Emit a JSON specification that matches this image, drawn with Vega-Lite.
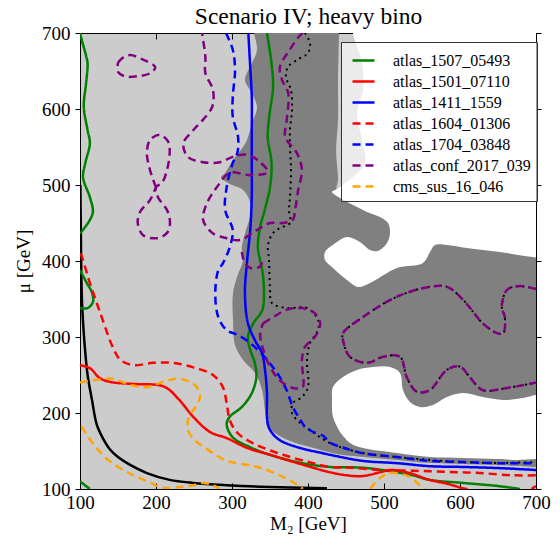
{
"$schema":"https://vega.github.io/schema/vega-lite/v6.json",
"width":456,"height":456,
"autosize":{"type":"none"},
"padding":{"left":80,"top":33,"right":24,"bottom":51},
"background":"white",
"config":{
"view":{"fill":"#cccccc","stroke":null},
"axis":{"grid":false,"domainColor":"black","domainWidth":1,"tickColor":"black","tickWidth":1,"labelFont":"Liberation Serif","labelFontSize":19,"labelColor":"black","titleFont":"Liberation Serif","titleFontSize":19,"titleFontWeight":"normal","titleColor":"black","labelFlush":false,"labelOverlap":false,"zindex":1}
},
"datasets":{
"regions":[
{"r":"D","x":326,"y":720},{"r":"D","x":329,"y":700},{"r":"D","x":332.9,"y":677.6},{"r":"D","x":326.3,"y":660.5},{"r":"D","x":317,"y":638.2},{"r":"D","x":323.7,"y":625},{"r":"D","x":332.9,"y":602.6},{"r":"D","x":326.3,"y":581.6},{"r":"D","x":319.7,"y":559.2},{"r":"D","x":314.5,"y":550},{"r":"D","x":301.3,"y":532.9},{"r":"D","x":290.8,"y":515.8},{"r":"D","x":285.5,"y":510.5},{"r":"D","x":294.7,"y":502.6},{"r":"D","x":314.5,"y":493.4},{"r":"D","x":323.7,"y":477.6},{"r":"D","x":323.7,"y":457.9},{"r":"D","x":318.4,"y":440.8},{"r":"D","x":313,"y":418.4},{"r":"D","x":314.5,"y":401.3},{"r":"D","x":306.6,"y":378.9},{"r":"D","x":301.3,"y":357.9},{"r":"D","x":301.3,"y":322.4},{"r":"D","x":304,"y":289.5},{"r":"D","x":314.5,"y":269.7},{"r":"D","x":330.3,"y":252.6},{"r":"D","x":339.5,"y":230.3},{"r":"D","x":343.4,"y":203.9},{"r":"D","x":347.4,"y":184.2},{"r":"D","x":356.6,"y":173.7},{"r":"D","x":376.3,"y":163.2},{"r":"D","x":402.6,"y":155.3},{"r":"D","x":438.2,"y":146},{"r":"D","x":472.4,"y":142.1},{"r":"D","x":517.1,"y":138.2},{"r":"D","x":560.5,"y":134.2},{"r":"D","x":603.9,"y":132.9},{"r":"D","x":648.7,"y":131.6},{"r":"D","x":700,"y":128.9},{"r":"D","x":720,"y":128},{"r":"D","x":720,"y":460},{"r":"D","x":560,"y":462},{"r":"D","x":500,"y":478},{"r":"D","x":460,"y":492},{"r":"D","x":438,"y":494},{"r":"D","x":439.5,"y":507},{"r":"D","x":437,"y":546},{"r":"D","x":439.5,"y":586},{"r":"D","x":439.5,"y":638},{"r":"D","x":440.8,"y":700},{"r":"D","x":441,"y":720},
{"r":"W","x":459,"y":720},{"r":"W","x":720,"y":720},{"r":"W","x":720,"y":405.3},{"r":"W","x":696,"y":405.3},{"r":"W","x":652.6,"y":411.8},{"r":"W","x":609.2,"y":417},{"r":"W","x":582.9,"y":421},{"r":"W","x":567.1,"y":421},{"r":"W","x":560.5,"y":411.8},{"r":"W","x":551.3,"y":397.4},{"r":"W","x":517.1,"y":390.8},{"r":"W","x":481.6,"y":371},{"r":"W","x":465.8,"y":365.8},{"r":"W","x":451.3,"y":375},{"r":"W","x":432.9,"y":390.8},{"r":"W","x":422.4,"y":401.3},{"r":"W","x":422.4,"y":411.8},{"r":"W","x":438.2,"y":425},{"r":"W","x":451.3,"y":431.6},{"r":"W","x":468.4,"y":425},{"r":"W","x":481.6,"y":414.5},{"r":"W","x":492,"y":413.2},{"r":"W","x":503.9,"y":423.7},{"r":"W","x":507.9,"y":436.8},{"r":"W","x":505.3,"y":450},{"r":"W","x":494.7,"y":457.9},{"r":"W","x":477.6,"y":464.5},{"r":"W","x":459.2,"y":473.7},{"r":"W","x":442.1,"y":482.9},{"r":"W","x":431.6,"y":490.8},{"r":"W","x":438.2,"y":494.7},{"r":"W","x":448.7,"y":502.6},{"r":"W","x":459.2,"y":510.5},{"r":"W","x":475,"y":528.9},{"r":"W","x":471,"y":559.2},{"r":"W","x":464.5,"y":594.7},{"r":"W","x":472.4,"y":625},{"r":"W","x":471,"y":660.5},{"r":"W","x":459.2,"y":700},{"r":"W","x":459,"y":720},
{"r":"W2","x":442.1,"y":175},{"r":"W2","x":432.9,"y":194.7},{"r":"W2","x":431.6,"y":217.1},{"r":"W2","x":432.9,"y":234.2},{"r":"W2","x":446,"y":247.4},{"r":"W2","x":464.5,"y":256.6},{"r":"W2","x":485.5,"y":260.5},{"r":"W2","x":507.9,"y":260.5},{"r":"W2","x":521,"y":252.6},{"r":"W2","x":525,"y":230.3},{"r":"W2","x":534.2,"y":214.5},{"r":"W2","x":547.4,"y":207.9},{"r":"W2","x":564.5,"y":210.5},{"r":"W2","x":582.9,"y":221},{"r":"W2","x":603.9,"y":226.3},{"r":"W2","x":630.3,"y":221},{"r":"W2","x":656.6,"y":217.1},{"r":"W2","x":682.9,"y":219.7},{"r":"W2","x":700,"y":223.7},{"r":"W2","x":720,"y":224},{"r":"W2","x":720,"y":139.5},{"r":"W2","x":700,"y":139.5},{"r":"W2","x":675,"y":138.2},{"r":"W2","x":648.7,"y":139.5},{"r":"W2","x":603.9,"y":140.8},{"r":"W2","x":560.5,"y":142.1},{"r":"W2","x":517.1,"y":147.4},{"r":"W2","x":472.4,"y":153.9},{"r":"W2","x":455.3,"y":160.5},{"r":"W2","x":442.1,"y":175}
],
"black":[
{"k":"solid","p":"k1","x":100.5,"y":500},{"k":"solid","p":"k1","x":101,"y":450},{"k":"solid","p":"k1","x":101.5,"y":400},{"k":"solid","p":"k1","x":102.5,"y":350},{"k":"solid","p":"k1","x":104,"y":320},{"k":"solid","p":"k1","x":106.5,"y":285},{"k":"solid","p":"k1","x":110,"y":250},{"k":"solid","p":"k1","x":115.8,"y":217},{"k":"solid","p":"k1","x":122,"y":185},{"k":"solid","p":"k1","x":130,"y":167},{"k":"solid","p":"k1","x":139.5,"y":152},{"k":"solid","p":"k1","x":150,"y":142},{"k":"solid","p":"k1","x":162,"y":134},{"k":"solid","p":"k1","x":188,"y":121},{"k":"solid","p":"k1","x":218,"y":112},{"k":"solid","p":"k1","x":249,"y":108},{"k":"solid","p":"k1","x":293,"y":105},{"k":"solid","p":"k1","x":337,"y":103},{"k":"solid","p":"k1","x":425,"y":101},
{"k":"dot","p":"k2","x":396,"y":700},{"k":"dot","p":"k2","x":402.6,"y":686.8},{"k":"dot","p":"k2","x":400,"y":673.7},{"k":"dot","p":"k2","x":385.5,"y":664.5},{"k":"dot","p":"k2","x":373.7,"y":655.3},{"k":"dot","p":"k2","x":371,"y":642.1},{"k":"dot","p":"k2","x":377.6,"y":625},{"k":"dot","p":"k2","x":379,"y":598.7},{"k":"dot","p":"k2","x":376.3,"y":572.4},{"k":"dot","p":"k2","x":376.3,"y":550},{"k":"dot","p":"k2","x":377.6,"y":519.7},{"k":"dot","p":"k2","x":376.3,"y":484.2},{"k":"dot","p":"k2","x":375,"y":467.1},{"k":"dot","p":"k2","x":376.3,"y":450},{"k":"dot","p":"k2","x":363.2,"y":443.4},{"k":"dot","p":"k2","x":354,"y":436.8},{"k":"dot","p":"k2","x":347.4,"y":421},{"k":"dot","p":"k2","x":348.7,"y":401.3},{"k":"dot","p":"k2","x":350,"y":365.8},{"k":"dot","p":"k2","x":352.6,"y":344.7},{"k":"dot","p":"k2","x":372.4,"y":338.2},{"k":"dot","p":"k2","x":398.7,"y":338.2},{"k":"dot","p":"k2","x":413.2,"y":322.4},{"k":"dot","p":"k2","x":413.2,"y":309.2},{"k":"dot","p":"k2","x":402.6,"y":292.1},{"k":"dot","p":"k2","x":398.7,"y":269.7},{"k":"dot","p":"k2","x":400,"y":234.2},{"k":"dot","p":"k2","x":392,"y":221},{"k":"dot","p":"k2","x":380.3,"y":213.2},{"k":"dot","p":"k2","x":379,"y":200},{"k":"dot","p":"k2","x":389.5,"y":186.8},{"k":"dot","p":"k2","x":398.7,"y":180.3},{"k":"dot","p":"k2","x":428.9,"y":160.5},{"k":"dot","p":"k2","x":472.4,"y":147.4},{"k":"dot","p":"k2","x":517.1,"y":142.1},{"k":"dot","p":"k2","x":560.5,"y":138.2},{"k":"dot","p":"k2","x":603.9,"y":135.5},{"k":"dot","p":"k2","x":648.7,"y":134.2},{"k":"dot","p":"k2","x":700,"y":135.5},
{"k":"dot","p":"k3","x":700,"y":363},{"k":"dot","p":"k3","x":679,"y":367},{"k":"dot","p":"k3","x":662,"y":362},{"k":"dot","p":"k3","x":655,"y":340},{"k":"dot","p":"k3","x":659,"y":326},{"k":"dot","p":"k3","x":657,"y":305},{"k":"dot","p":"k3","x":649,"y":305},{"k":"dot","p":"k3","x":630,"y":318},{"k":"dot","p":"k3","x":604,"y":349},{"k":"dot","p":"k3","x":583,"y":366},{"k":"dot","p":"k3","x":560,"y":366},{"k":"dot","p":"k3","x":517,"y":353},{"k":"dot","p":"k3","x":472,"y":326},{"k":"dot","p":"k3","x":446,"y":305},{"k":"dot","p":"k3","x":446,"y":296},{"k":"dot","p":"k3","x":455,"y":274},{"k":"dot","p":"k3","x":478,"y":266},{"k":"dot","p":"k3","x":499,"y":274},{"k":"dot","p":"k3","x":521,"y":274},{"k":"dot","p":"k3","x":530,"y":247},{"k":"dot","p":"k3","x":543,"y":228},{"k":"dot","p":"k3","x":560,"y":230},{"k":"dot","p":"k3","x":583,"y":257},{"k":"dot","p":"k3","x":600,"y":261},{"k":"dot","p":"k3","x":613,"y":247},{"k":"dot","p":"k3","x":630,"y":230},{"k":"dot","p":"k3","x":662,"y":233},{"k":"dot","p":"k3","x":700,"y":240}
],
"curves":[
{"s":"atlas_1507_05493","p":"g1","x":100,"y":700},{"s":"atlas_1507_05493","p":"g1","x":102,"y":692},{"s":"atlas_1507_05493","p":"g1","x":108,"y":670},{"s":"atlas_1507_05493","p":"g1","x":110,"y":660},{"s":"atlas_1507_05493","p":"g1","x":108,"y":634},{"s":"atlas_1507_05493","p":"g1","x":105,"y":603},{"s":"atlas_1507_05493","p":"g1","x":110,"y":572},{"s":"atlas_1507_05493","p":"g1","x":113,"y":555},{"s":"atlas_1507_05493","p":"g1","x":107,"y":529},{"s":"atlas_1507_05493","p":"g1","x":104,"y":510},{"s":"atlas_1507_05493","p":"g1","x":113,"y":484},{"s":"atlas_1507_05493","p":"g1","x":117,"y":465},{"s":"atlas_1507_05493","p":"g1","x":113,"y":454},{"s":"atlas_1507_05493","p":"g1","x":100,"y":436},
{"s":"atlas_1507_05493","p":"g2","x":100,"y":388},{"s":"atlas_1507_05493","p":"g2","x":109,"y":371},{"s":"atlas_1507_05493","p":"g2","x":116,"y":358},{"s":"atlas_1507_05493","p":"g2","x":117,"y":346},{"s":"atlas_1507_05493","p":"g2","x":110,"y":338},{"s":"atlas_1507_05493","p":"g2","x":100,"y":338},
{"s":"atlas_1507_05493","p":"g3","x":100,"y":110},{"s":"atlas_1507_05493","p":"g3","x":113,"y":100},
{"s":"atlas_1507_05493","p":"g4","x":346,"y":700},{"s":"atlas_1507_05493","p":"g4","x":352,"y":660},{"s":"atlas_1507_05493","p":"g4","x":354,"y":629},{"s":"atlas_1507_05493","p":"g4","x":349,"y":590},{"s":"atlas_1507_05493","p":"g4","x":347,"y":563},{"s":"atlas_1507_05493","p":"g4","x":352,"y":529},{"s":"atlas_1507_05493","p":"g4","x":350,"y":497},{"s":"atlas_1507_05493","p":"g4","x":343,"y":467},{"s":"atlas_1507_05493","p":"g4","x":337,"y":445},{"s":"atlas_1507_05493","p":"g4","x":334,"y":418},{"s":"atlas_1507_05493","p":"g4","x":337,"y":401},{"s":"atlas_1507_05493","p":"g4","x":341,"y":379},{"s":"atlas_1507_05493","p":"g4","x":340,"y":336},{"s":"atlas_1507_05493","p":"g4","x":328,"y":318},{"s":"atlas_1507_05493","p":"g4","x":321,"y":300},{"s":"atlas_1507_05493","p":"g4","x":324,"y":283},{"s":"atlas_1507_05493","p":"g4","x":330,"y":266},{"s":"atlas_1507_05493","p":"g4","x":332,"y":247},{"s":"atlas_1507_05493","p":"g4","x":326,"y":226},{"s":"atlas_1507_05493","p":"g4","x":313,"y":208},{"s":"atlas_1507_05493","p":"g4","x":297,"y":195},{"s":"atlas_1507_05493","p":"g4","x":293,"y":185},{"s":"atlas_1507_05493","p":"g4","x":301,"y":168},{"s":"atlas_1507_05493","p":"g4","x":324,"y":155},{"s":"atlas_1507_05493","p":"g4","x":350,"y":145},{"s":"atlas_1507_05493","p":"g4","x":393,"y":134},{"s":"atlas_1507_05493","p":"g4","x":429,"y":129},{"s":"atlas_1507_05493","p":"g4","x":472,"y":128},{"s":"atlas_1507_05493","p":"g4","x":517,"y":122},{"s":"atlas_1507_05493","p":"g4","x":538,"y":118},{"s":"atlas_1507_05493","p":"g4","x":560,"y":112},{"s":"atlas_1507_05493","p":"g4","x":604,"y":108},{"s":"atlas_1507_05493","p":"g4","x":649,"y":104},{"s":"atlas_1507_05493","p":"g4","x":679,"y":100},
{"s":"atlas_1501_07110","p":"r1","x":100,"y":263},{"s":"atlas_1501_07110","p":"r1","x":113,"y":259},{"s":"atlas_1501_07110","p":"r1","x":126,"y":246},{"s":"atlas_1501_07110","p":"r1","x":139,"y":241},{"s":"atlas_1501_07110","p":"r1","x":175,"y":238},{"s":"atlas_1501_07110","p":"r1","x":201,"y":237},{"s":"atlas_1501_07110","p":"r1","x":214,"y":233},{"s":"atlas_1501_07110","p":"r1","x":230,"y":218},{"s":"atlas_1501_07110","p":"r1","x":249,"y":195},{"s":"atlas_1501_07110","p":"r1","x":271,"y":175},{"s":"atlas_1501_07110","p":"r1","x":293,"y":167},{"s":"atlas_1501_07110","p":"r1","x":320,"y":154},{"s":"atlas_1501_07110","p":"r1","x":350,"y":145},{"s":"atlas_1501_07110","p":"r1","x":393,"y":132},{"s":"atlas_1501_07110","p":"r1","x":429,"y":122},{"s":"atlas_1501_07110","p":"r1","x":451,"y":118},{"s":"atlas_1501_07110","p":"r1","x":472,"y":117},{"s":"atlas_1501_07110","p":"r1","x":495,"y":122},{"s":"atlas_1501_07110","p":"r1","x":508,"y":125},{"s":"atlas_1501_07110","p":"r1","x":530,"y":122},{"s":"atlas_1501_07110","p":"r1","x":560,"y":112},{"s":"atlas_1501_07110","p":"r1","x":583,"y":107},{"s":"atlas_1501_07110","p":"r1","x":604,"y":101},{"s":"atlas_1501_07110","p":"r1","x":610,"y":100},
{"s":"atlas_1501_07110","p":"r2","x":694,"y":100},{"s":"atlas_1501_07110","p":"r2","x":700,"y":104},
{"s":"atlas_1411_1559","p":"b1","x":321.5,"y":700},{"s":"atlas_1411_1559","p":"b1","x":323.7,"y":660},{"s":"atlas_1411_1559","p":"b1","x":326,"y":616},{"s":"atlas_1411_1559","p":"b1","x":326,"y":572},{"s":"atlas_1411_1559","p":"b1","x":326,"y":529},{"s":"atlas_1411_1559","p":"b1","x":326,"y":484},{"s":"atlas_1411_1559","p":"b1","x":324,"y":441},{"s":"atlas_1411_1559","p":"b1","x":320,"y":401},{"s":"atlas_1411_1559","p":"b1","x":317,"y":358},{"s":"atlas_1411_1559","p":"b1","x":321,"y":318},{"s":"atlas_1411_1559","p":"b1","x":330,"y":296},{"s":"atlas_1411_1559","p":"b1","x":339.5,"y":279},{"s":"atlas_1411_1559","p":"b1","x":343.4,"y":257},{"s":"atlas_1411_1559","p":"b1","x":346,"y":226},{"s":"atlas_1411_1559","p":"b1","x":346,"y":195},{"s":"atlas_1411_1559","p":"b1","x":348,"y":182},{"s":"atlas_1411_1559","p":"b1","x":355,"y":171},{"s":"atlas_1411_1559","p":"b1","x":365,"y":163},{"s":"atlas_1411_1559","p":"b1","x":389.5,"y":154},{"s":"atlas_1411_1559","p":"b1","x":420,"y":147},{"s":"atlas_1411_1559","p":"b1","x":429,"y":145},{"s":"atlas_1411_1559","p":"b1","x":472,"y":137},{"s":"atlas_1411_1559","p":"b1","x":517,"y":134},{"s":"atlas_1411_1559","p":"b1","x":560.5,"y":130},{"s":"atlas_1411_1559","p":"b1","x":604,"y":129},{"s":"atlas_1411_1559","p":"b1","x":649,"y":127.6},{"s":"atlas_1411_1559","p":"b1","x":700,"y":125},
{"s":"atlas_1604_01306","p":"rd1","x":100.5,"y":410},{"s":"atlas_1604_01306","p":"rd1","x":103,"y":404},{"s":"atlas_1604_01306","p":"rd1","x":113,"y":371},{"s":"atlas_1604_01306","p":"rd1","x":122,"y":345},{"s":"atlas_1604_01306","p":"rd1","x":130,"y":322},{"s":"atlas_1604_01306","p":"rd1","x":143,"y":287},{"s":"atlas_1604_01306","p":"rd1","x":153,"y":270},{"s":"atlas_1604_01306","p":"rd1","x":170,"y":263},{"s":"atlas_1604_01306","p":"rd1","x":196,"y":266},{"s":"atlas_1604_01306","p":"rd1","x":222,"y":266},{"s":"atlas_1604_01306","p":"rd1","x":249,"y":260},{"s":"atlas_1604_01306","p":"rd1","x":275,"y":250},{"s":"atlas_1604_01306","p":"rd1","x":288,"y":234},{"s":"atlas_1604_01306","p":"rd1","x":293,"y":213},{"s":"atlas_1604_01306","p":"rd1","x":297,"y":191},{"s":"atlas_1604_01306","p":"rd1","x":307,"y":174},{"s":"atlas_1604_01306","p":"rd1","x":328,"y":160},{"s":"atlas_1604_01306","p":"rd1","x":367,"y":145},{"s":"atlas_1604_01306","p":"rd1","x":403,"y":135},{"s":"atlas_1604_01306","p":"rd1","x":429,"y":129},{"s":"atlas_1604_01306","p":"rd1","x":455,"y":128},{"s":"atlas_1604_01306","p":"rd1","x":495,"y":125},{"s":"atlas_1604_01306","p":"rd1","x":538,"y":124},{"s":"atlas_1604_01306","p":"rd1","x":583,"y":122.6},{"s":"atlas_1604_01306","p":"rd1","x":626,"y":121},{"s":"atlas_1604_01306","p":"rd1","x":670,"y":118},{"s":"atlas_1604_01306","p":"rd1","x":700,"y":118},
{"s":"atlas_1704_03848","p":"bd1","x":292,"y":700},{"s":"atlas_1704_03848","p":"bd1","x":301,"y":678},{"s":"atlas_1704_03848","p":"bd1","x":304,"y":651},{"s":"atlas_1704_03848","p":"bd1","x":301,"y":616},{"s":"atlas_1704_03848","p":"bd1","x":301,"y":590},{"s":"atlas_1704_03848","p":"bd1","x":308,"y":563},{"s":"atlas_1704_03848","p":"bd1","x":307,"y":542},{"s":"atlas_1704_03848","p":"bd1","x":301,"y":529},{"s":"atlas_1704_03848","p":"bd1","x":293,"y":497},{"s":"atlas_1704_03848","p":"bd1","x":291,"y":467},{"s":"atlas_1704_03848","p":"bd1","x":301,"y":441},{"s":"atlas_1704_03848","p":"bd1","x":297,"y":418},{"s":"atlas_1704_03848","p":"bd1","x":288,"y":397},{"s":"atlas_1704_03848","p":"bd1","x":282,"y":388},{"s":"atlas_1704_03848","p":"bd1","x":278,"y":358},{"s":"atlas_1704_03848","p":"bd1","x":282,"y":326},{"s":"atlas_1704_03848","p":"bd1","x":293,"y":309},{"s":"atlas_1704_03848","p":"bd1","x":307,"y":303},{"s":"atlas_1704_03848","p":"bd1","x":324,"y":292},{"s":"atlas_1704_03848","p":"bd1","x":341,"y":276},{"s":"atlas_1704_03848","p":"bd1","x":354,"y":260},{"s":"atlas_1704_03848","p":"bd1","x":363,"y":247},{"s":"atlas_1704_03848","p":"bd1","x":372,"y":230},{"s":"atlas_1704_03848","p":"bd1","x":380,"y":208},{"s":"atlas_1704_03848","p":"bd1","x":390,"y":191},{"s":"atlas_1704_03848","p":"bd1","x":396,"y":182},{"s":"atlas_1704_03848","p":"bd1","x":405,"y":176},{"s":"atlas_1704_03848","p":"bd1","x":420,"y":170},{"s":"atlas_1704_03848","p":"bd1","x":429,"y":161},{"s":"atlas_1704_03848","p":"bd1","x":451,"y":153},{"s":"atlas_1704_03848","p":"bd1","x":472,"y":147},{"s":"atlas_1704_03848","p":"bd1","x":517,"y":142},{"s":"atlas_1704_03848","p":"bd1","x":560,"y":137},{"s":"atlas_1704_03848","p":"bd1","x":604,"y":135.5},{"s":"atlas_1704_03848","p":"bd1","x":649,"y":134},{"s":"atlas_1704_03848","p":"bd1","x":700,"y":134},
{"s":"atlas_conf_2017_039","p":"p1","x":150,"y":661},{"s":"atlas_conf_2017_039","p":"p1","x":157,"y":668},{"s":"atlas_conf_2017_039","p":"p1","x":166,"y":671},{"s":"atlas_conf_2017_039","p":"p1","x":183,"y":665},{"s":"atlas_conf_2017_039","p":"p1","x":199,"y":655},{"s":"atlas_conf_2017_039","p":"p1","x":192,"y":647},{"s":"atlas_conf_2017_039","p":"p1","x":175,"y":643},{"s":"atlas_conf_2017_039","p":"p1","x":159,"y":643},{"s":"atlas_conf_2017_039","p":"p1","x":150,"y":649},{"s":"atlas_conf_2017_039","p":"p1","x":150,"y":661},
{"s":"atlas_conf_2017_039","p":"p2","x":200,"y":497},{"s":"atlas_conf_2017_039","p":"p2","x":192,"y":520},{"s":"atlas_conf_2017_039","p":"p2","x":188,"y":542},{"s":"atlas_conf_2017_039","p":"p2","x":192,"y":559},{"s":"atlas_conf_2017_039","p":"p2","x":205,"y":566},{"s":"atlas_conf_2017_039","p":"p2","x":216,"y":557},{"s":"atlas_conf_2017_039","p":"p2","x":218,"y":542},{"s":"atlas_conf_2017_039","p":"p2","x":214.5,"y":520},{"s":"atlas_conf_2017_039","p":"p2","x":208,"y":503},{"s":"atlas_conf_2017_039","p":"p2","x":200,"y":497},{"s":"atlas_conf_2017_039","p":"p2","x":202.6,"y":484},{"s":"atlas_conf_2017_039","p":"p2","x":214.5,"y":467},{"s":"atlas_conf_2017_039","p":"p2","x":218.4,"y":450},{"s":"atlas_conf_2017_039","p":"p2","x":214.5,"y":437},{"s":"atlas_conf_2017_039","p":"p2","x":201,"y":430},{"s":"atlas_conf_2017_039","p":"p2","x":183,"y":434},{"s":"atlas_conf_2017_039","p":"p2","x":176,"y":450},{"s":"atlas_conf_2017_039","p":"p2","x":179,"y":464.5},{"s":"atlas_conf_2017_039","p":"p2","x":192,"y":480},{"s":"atlas_conf_2017_039","p":"p2","x":200,"y":497},
{"s":"atlas_conf_2017_039","p":"p3","x":393.4,"y":700},{"s":"atlas_conf_2017_039","p":"p3","x":389.5,"y":697},{"s":"atlas_conf_2017_039","p":"p3","x":376,"y":678},{"s":"atlas_conf_2017_039","p":"p3","x":363,"y":655},{"s":"atlas_conf_2017_039","p":"p3","x":366,"y":638},{"s":"atlas_conf_2017_039","p":"p3","x":374,"y":621},{"s":"atlas_conf_2017_039","p":"p3","x":372,"y":585.5},{"s":"atlas_conf_2017_039","p":"p3","x":370,"y":563},{"s":"atlas_conf_2017_039","p":"p3","x":385.5,"y":542},{"s":"atlas_conf_2017_039","p":"p3","x":392,"y":520},{"s":"atlas_conf_2017_039","p":"p3","x":387,"y":493},{"s":"atlas_conf_2017_039","p":"p3","x":383,"y":467},{"s":"atlas_conf_2017_039","p":"p3","x":380,"y":454},{"s":"atlas_conf_2017_039","p":"p3","x":367,"y":450},{"s":"atlas_conf_2017_039","p":"p3","x":350,"y":450},{"s":"atlas_conf_2017_039","p":"p3","x":333,"y":441},{"s":"atlas_conf_2017_039","p":"p3","x":310.5,"y":427.6},{"s":"atlas_conf_2017_039","p":"p3","x":293,"y":430},{"s":"atlas_conf_2017_039","p":"p3","x":274,"y":437},{"s":"atlas_conf_2017_039","p":"p3","x":262,"y":454},{"s":"atlas_conf_2017_039","p":"p3","x":267,"y":476},{"s":"atlas_conf_2017_039","p":"p3","x":280,"y":497},{"s":"atlas_conf_2017_039","p":"p3","x":297,"y":516},{"s":"atlas_conf_2017_039","p":"p3","x":324,"y":513},{"s":"atlas_conf_2017_039","p":"p3","x":347,"y":517},{"s":"atlas_conf_2017_039","p":"p3","x":337,"y":530},{"s":"atlas_conf_2017_039","p":"p3","x":320,"y":540},{"s":"atlas_conf_2017_039","p":"p3","x":301,"y":537},{"s":"atlas_conf_2017_039","p":"p3","x":284,"y":530},{"s":"atlas_conf_2017_039","p":"p3","x":262,"y":530},{"s":"atlas_conf_2017_039","p":"p3","x":242,"y":537},{"s":"atlas_conf_2017_039","p":"p3","x":236,"y":555},{"s":"atlas_conf_2017_039","p":"p3","x":249,"y":572},{"s":"atlas_conf_2017_039","p":"p3","x":262,"y":586},{"s":"atlas_conf_2017_039","p":"p3","x":274,"y":603},{"s":"atlas_conf_2017_039","p":"p3","x":275,"y":625},{"s":"atlas_conf_2017_039","p":"p3","x":265,"y":647},{"s":"atlas_conf_2017_039","p":"p3","x":265,"y":668},{"s":"atlas_conf_2017_039","p":"p3","x":262,"y":691},{"s":"atlas_conf_2017_039","p":"p3","x":260.5,"y":700},
{"s":"atlas_conf_2017_039","p":"p4","x":313,"y":412},{"s":"atlas_conf_2017_039","p":"p4","x":317,"y":397},{"s":"atlas_conf_2017_039","p":"p4","x":326,"y":390},{"s":"atlas_conf_2017_039","p":"p4","x":337,"y":393},{"s":"atlas_conf_2017_039","p":"p4","x":341,"y":404},
{"s":"atlas_conf_2017_039","p":"p5","x":341,"y":318},{"s":"atlas_conf_2017_039","p":"p5","x":354,"y":326},{"s":"atlas_conf_2017_039","p":"p5","x":372,"y":336},{"s":"atlas_conf_2017_039","p":"p5","x":390,"y":338},{"s":"atlas_conf_2017_039","p":"p5","x":407,"y":333},{"s":"atlas_conf_2017_039","p":"p5","x":416,"y":318},{"s":"atlas_conf_2017_039","p":"p5","x":409,"y":300},{"s":"atlas_conf_2017_039","p":"p5","x":396,"y":287},{"s":"atlas_conf_2017_039","p":"p5","x":392,"y":270},{"s":"atlas_conf_2017_039","p":"p5","x":393,"y":253},{"s":"atlas_conf_2017_039","p":"p5","x":393,"y":234},{"s":"atlas_conf_2017_039","p":"p5","x":380,"y":233},{"s":"atlas_conf_2017_039","p":"p5","x":363,"y":243},{"s":"atlas_conf_2017_039","p":"p5","x":350,"y":261},{"s":"atlas_conf_2017_039","p":"p5","x":340,"y":287},{"s":"atlas_conf_2017_039","p":"p5","x":337,"y":305},{"s":"atlas_conf_2017_039","p":"p5","x":341,"y":318},
{"s":"atlas_conf_2017_039","p":"p6","x":700,"y":363},{"s":"atlas_conf_2017_039","p":"p6","x":679,"y":367},{"s":"atlas_conf_2017_039","p":"p6","x":662,"y":362},{"s":"atlas_conf_2017_039","p":"p6","x":655,"y":340},{"s":"atlas_conf_2017_039","p":"p6","x":659,"y":326},{"s":"atlas_conf_2017_039","p":"p6","x":657,"y":305},{"s":"atlas_conf_2017_039","p":"p6","x":649,"y":305},{"s":"atlas_conf_2017_039","p":"p6","x":630,"y":318},{"s":"atlas_conf_2017_039","p":"p6","x":604,"y":349},{"s":"atlas_conf_2017_039","p":"p6","x":583,"y":366},{"s":"atlas_conf_2017_039","p":"p6","x":560,"y":366},{"s":"atlas_conf_2017_039","p":"p6","x":517,"y":353},{"s":"atlas_conf_2017_039","p":"p6","x":472,"y":326},{"s":"atlas_conf_2017_039","p":"p6","x":446,"y":305},{"s":"atlas_conf_2017_039","p":"p6","x":446,"y":296},{"s":"atlas_conf_2017_039","p":"p6","x":455,"y":274},{"s":"atlas_conf_2017_039","p":"p6","x":478,"y":266},{"s":"atlas_conf_2017_039","p":"p6","x":499,"y":274},{"s":"atlas_conf_2017_039","p":"p6","x":521,"y":274},{"s":"atlas_conf_2017_039","p":"p6","x":530,"y":247},{"s":"atlas_conf_2017_039","p":"p6","x":543,"y":228},{"s":"atlas_conf_2017_039","p":"p6","x":560,"y":230},{"s":"atlas_conf_2017_039","p":"p6","x":583,"y":257},{"s":"atlas_conf_2017_039","p":"p6","x":600,"y":261},{"s":"atlas_conf_2017_039","p":"p6","x":613,"y":247},{"s":"atlas_conf_2017_039","p":"p6","x":630,"y":230},{"s":"atlas_conf_2017_039","p":"p6","x":662,"y":233},{"s":"atlas_conf_2017_039","p":"p6","x":700,"y":240},
{"s":"cms_sus_16_046","p":"o1","x":100,"y":240},{"s":"cms_sus_16_046","p":"o1","x":117,"y":243},{"s":"cms_sus_16_046","p":"o1","x":143,"y":245},{"s":"cms_sus_16_046","p":"o1","x":166,"y":237},{"s":"cms_sus_16_046","p":"o1","x":188,"y":234},{"s":"cms_sus_16_046","p":"o1","x":209,"y":241},{"s":"cms_sus_16_046","p":"o1","x":232,"y":245},{"s":"cms_sus_16_046","p":"o1","x":252,"y":236},{"s":"cms_sus_16_046","p":"o1","x":258,"y":222},{"s":"cms_sus_16_046","p":"o1","x":252,"y":208},{"s":"cms_sus_16_046","p":"o1","x":243,"y":194},{"s":"cms_sus_16_046","p":"o1","x":242,"y":178},{"s":"cms_sus_16_046","p":"o1","x":250,"y":165},{"s":"cms_sus_16_046","p":"o1","x":262,"y":156},{"s":"cms_sus_16_046","p":"o1","x":277,"y":146},{"s":"cms_sus_16_046","p":"o1","x":293,"y":137},{"s":"cms_sus_16_046","p":"o1","x":314,"y":133},{"s":"cms_sus_16_046","p":"o1","x":337,"y":128},{"s":"cms_sus_16_046","p":"o1","x":367,"y":116},{"s":"cms_sus_16_046","p":"o1","x":390,"y":103},{"s":"cms_sus_16_046","p":"o1","x":393,"y":100},
{"s":"cms_sus_16_046","p":"o2","x":102,"y":182},{"s":"cms_sus_16_046","p":"o2","x":117,"y":160},{"s":"cms_sus_16_046","p":"o2","x":135,"y":140},{"s":"cms_sus_16_046","p":"o2","x":155,"y":126},{"s":"cms_sus_16_046","p":"o2","x":175,"y":116},{"s":"cms_sus_16_046","p":"o2","x":195,"y":107},{"s":"cms_sus_16_046","p":"o2","x":205,"y":102.6},{"s":"cms_sus_16_046","p":"o2","x":214.5,"y":101.3},{"s":"cms_sus_16_046","p":"o2","x":232,"y":102.6},{"s":"cms_sus_16_046","p":"o2","x":249,"y":105},{"s":"cms_sus_16_046","p":"o2","x":262,"y":108},{"s":"cms_sus_16_046","p":"o2","x":275,"y":105},{"s":"cms_sus_16_046","p":"o2","x":284,"y":100},
{"s":"cms_sus_16_046","p":"o3","x":481.6,"y":100},{"s":"cms_sus_16_046","p":"o3","x":494.7,"y":114.5},{"s":"cms_sus_16_046","p":"o3","x":508,"y":121},{"s":"cms_sus_16_046","p":"o3","x":521,"y":120},{"s":"cms_sus_16_046","p":"o3","x":534,"y":116},{"s":"cms_sus_16_046","p":"o3","x":547,"y":105},{"s":"cms_sus_16_046","p":"o3","x":554,"y":100}
]
},
"layer":[
{"data":{"name":"regions"},"transform":[{"filter":"datum.r == 'D'"}],
 "mark":{"type":"line","filled":true,"color":"#808080","strokeWidth":0,"opacity":1,"clip":true,"interpolate":"catmull-rom"},
 "encoding":{
  "x":{"field":"x","type":"quantitative","scale":{"domain":[100,700],"nice":false,"zero":false},"axis":{"orient":"bottom","values":[100,200,300,400,500,600,700],"title":"M₂ [GeV]","tickSize":-6,"labelPadding":10,"titlePadding":2}},
  "y":{"field":"y","type":"quantitative","scale":{"domain":[100,700],"nice":false,"zero":false},"axis":{"orient":"left","values":[100,200,300,400,500,600,700],"title":"μ [GeV]","tickSize":5,"labelPadding":5,"titlePadding":8}},
  "detail":{"field":"r"},"order":{"value":null}}},
{"data":{"name":"regions"},"transform":[{"filter":"datum.r != 'D'"}],
 "mark":{"type":"line","filled":true,"color":"#ffffff","strokeWidth":0,"opacity":1,"clip":true,"interpolate":"catmull-rom"},
 "encoding":{
  "x":{"field":"x","type":"quantitative","axis":{"orient":"top","values":[100,200,300,400,500,600,700],"labels":false,"title":"Scenario IV; heavy bino","titleFontSize":23.5,"titlePadding":4,"titleBaseline":"bottom","tickSize":-6}},
  "y":{"field":"y","type":"quantitative","axis":{"orient":"right","values":[100,200,300,400,500,600,700],"labels":false,"title":null,"tickSize":5,"minExtent":0}},
  "detail":{"field":"r"},"order":{"value":null}}},
{"data":{"name":"black"},"transform":[{"filter":"datum.k == 'solid'"}],
 "mark":{"type":"line","color":"black","strokeWidth":2.5,"clip":true,"interpolate":"catmull-rom"},
 "encoding":{"x":{"field":"x","type":"quantitative","axis":null},"y":{"field":"y","type":"quantitative","axis":null},"detail":{"field":"p"},"order":{"value":null}}},
{"data":{"name":"black"},"transform":[{"filter":"datum.k == 'dot'"}],
 "mark":{"type":"line","color":"black","strokeWidth":2,"strokeDash":[2,4],"clip":true,"interpolate":"catmull-rom"},
 "encoding":{"x":{"field":"x","type":"quantitative","axis":null},"y":{"field":"y","type":"quantitative","axis":null},"detail":{"field":"p"},"order":{"value":null}}},
{"data":{"name":"curves"},
 "mark":{"type":"line","strokeWidth":2.5,"clip":true,"interpolate":"catmull-rom"},
 "encoding":{"x":{"field":"x","type":"quantitative","axis":null},"y":{"field":"y","type":"quantitative","axis":null},"detail":{"field":"p"},"order":{"value":null},
  "color":{"field":"s","type":"nominal","scale":{"domain":["atlas_1507_05493","atlas_1501_07110","atlas_1411_1559","atlas_1604_01306","atlas_1704_03848","atlas_conf_2017_039","cms_sus_16_046"],"range":["#008000","#ff0000","#0000ff","#ff0000","#0000ff","#800080","#ffa500"]},
   "legend":{"orient":"none","legendX":261,"legendY":9,"title":null,"symbolType":"stroke","symbolSize":484,"symbolStrokeWidth":2.5,"labelFont":"Liberation Serif","labelFontSize":16,"labelColor":"black","fillColor":"rgba(255,255,255,0.6)","strokeColor":"#333333","padding":6,"rowPadding":0,"labelOffset":17,"symbolOffset":4,"labelLimit":300}},
  "strokeDash":{"field":"s","type":"nominal","scale":{"domain":["atlas_1507_05493","atlas_1501_07110","atlas_1411_1559","atlas_1604_01306","atlas_1704_03848","atlas_conf_2017_039","cms_sus_16_046"],"range":[[1,0],[1,0],[1,0],[8,5],[8,5],[8,5],[8,5]]}}}}
],
"resolve":{"axis":{"x":"independent","y":"independent"}}
}
